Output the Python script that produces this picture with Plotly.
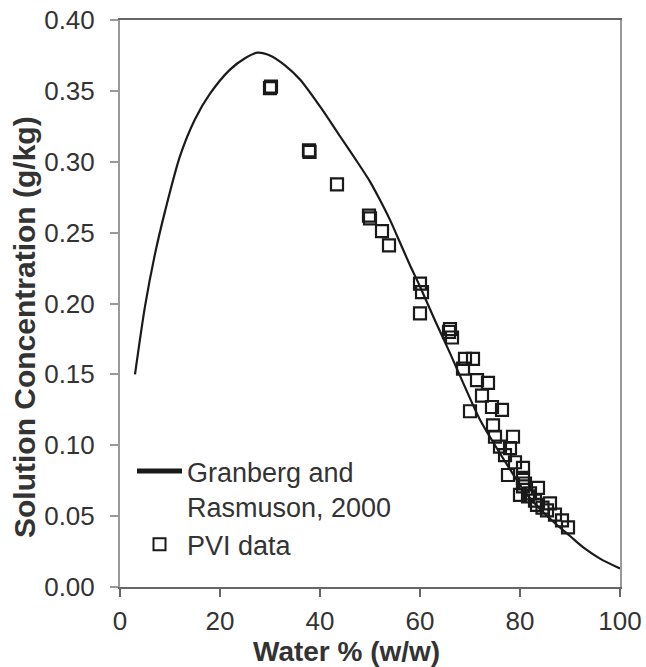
import plotly.graph_objects as go

# Model curve (Granberg and Rasmuson, 2000)
curve_x = [3, 5, 7, 9, 12, 15, 18, 22, 25, 27.5, 30, 33, 36, 40, 44, 48, 50, 52, 54, 56, 58, 60,
           63, 66, 69, 72, 75, 78, 81, 84, 87, 90, 93, 96, 100]
curve_y = [0.150, 0.198, 0.235, 0.265, 0.304, 0.330, 0.348, 0.365, 0.373, 0.377, 0.375, 0.368,
           0.358, 0.339, 0.318, 0.297, 0.286, 0.273, 0.259, 0.243, 0.227, 0.212, 0.188, 0.165,
           0.141, 0.118, 0.100, 0.083, 0.067, 0.055, 0.045, 0.036, 0.027, 0.020, 0.013]

# PVI data
pvi_x = [30.0, 30.2, 37.8, 37.9, 43.4, 49.8, 50.0, 52.4, 53.8, 60.0, 60.4, 60.0, 66.0, 65.8, 66.4,
         69.0, 70.6, 68.6, 71.4, 73.6, 72.4, 74.4, 76.4, 70.0, 74.6, 75.0, 78.6, 76.0, 78.0, 77.0,
         77.6, 80.6, 80.6, 80.6, 80.0, 81.6, 83.6, 83.0, 83.4, 86.0, 85.4, 87.0, 88.4, 89.6,
         79.0, 81.0, 82.0, 84.5]
pvi_y = [0.352, 0.353, 0.308, 0.307, 0.284, 0.262, 0.260, 0.251, 0.241, 0.214, 0.208, 0.193, 0.182,
         0.180, 0.176, 0.161, 0.161, 0.154, 0.146, 0.144, 0.135, 0.127, 0.125, 0.124, 0.114, 0.106,
         0.106, 0.099, 0.098, 0.093, 0.079, 0.084, 0.077, 0.071, 0.065, 0.064, 0.070, 0.061, 0.058,
         0.059, 0.054, 0.051, 0.047, 0.042, 0.088, 0.073, 0.066, 0.056]

x_ticks = [0, 20, 40, 60, 80, 100]
y_ticks = [0.00, 0.05, 0.10, 0.15, 0.20, 0.25, 0.30, 0.35, 0.40]

FONT = "Liberation Sans, Arial, sans-serif"
TXT = "#333333"

W, H = 646, 667
L, R, T, B = 120, 26, 20, 80
pw, ph = W - L - R, H - T - B

fig = go.Figure()
fig.add_trace(go.Scatter(
    x=curve_x, y=curve_y, mode="lines", name="Granberg and<br>Rasmuson, 2000",
    line=dict(color="#1a1a1a", width=2.2, shape="spline", smoothing=0.8),
))
fig.add_trace(go.Scatter(
    x=pvi_x, y=pvi_y, mode="markers", name="PVI data",
    marker=dict(symbol="square-open", size=12, color="#1a1a1a", line=dict(width=2.2, color="#1a1a1a")),
))

fig.update_layout(
    width=W, height=H, autosize=False,
    margin=dict(l=L, r=R, t=T, b=B, pad=0, autoexpand=False),
    paper_bgcolor="white", plot_bgcolor="white",
    font=dict(family=FONT, size=26, color=TXT),
    showlegend=True,
    legend=dict(x=(132 - L) / pw, y=0.247, xanchor="left", yanchor="top", valign="top",
                bgcolor="rgba(0,0,0,0)", font=dict(size=27, color=TXT),
                tracegroupgap=0, itemsizing="constant", itemwidth=45),
    annotations=[
        dict(text="<b>Water % (w/w)</b>", x=(346 - L) / pw, y=(H - B - 651) / ph,
             xref="paper", yref="paper", xanchor="center", yanchor="middle",
             showarrow=False, font=dict(size=28, color=TXT)),
        dict(text="<b>Solution Concentration (g/kg)</b>", x=(24 - L) / pw, y=(H - B - 327) / ph,
             xref="paper", yref="paper", xanchor="center", yanchor="middle", textangle=-90,
             showarrow=False, font=dict(size=30, color=TXT)),
    ],
)

fig.update_xaxes(
    range=[0, 100], tickvals=x_ticks, ticktext=[str(v) for v in x_ticks], automargin=False,
    showgrid=False, zeroline=False, showline=True, linecolor="#666666", linewidth=2,
    mirror=True, ticks="outside", ticklen=8, tickwidth=2, tickcolor="#666666",
    ticklabelstandoff=2,
)
fig.update_yaxes(
    range=[0, 0.40], tickvals=y_ticks, ticktext=[f"{v:.2f}" for v in y_ticks], automargin=False,
    showgrid=False, zeroline=False, showline=True, linecolor="#999999", linewidth=2,
    mirror=True, ticks="outside", ticklen=8, tickwidth=2, tickcolor="#999999",
    ticklabelstandoff=10,
)

fig.write_html("out.html")
